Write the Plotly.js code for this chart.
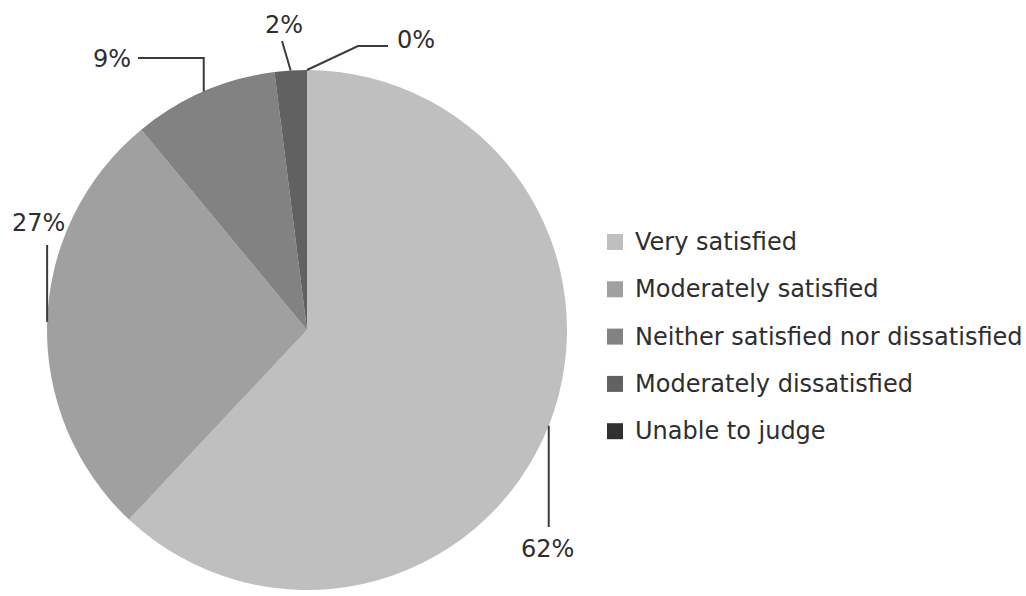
<!DOCTYPE html>
<html>
<head>
<meta charset="utf-8">
<script src="https://cdn.plot.ly/plotly-3.0.1.min.js"></script>
<style>html,body{margin:0;padding:0;background:#fff;}#chart{width:1026px;height:596px;}</style>
</head>
<body>
<div id="chart"></div>
<script>
// ---- data ----
const categories = ["Very satisfied", "Moderately satisfied", "Neither satisfied nor dissatisfied", "Moderately dissatisfied", "Unable to judge"];
const values = [62, 27, 9, 2, 0];
const percentLabels = ["62%", "27%", "9%", "2%", "0%"];
const colors = ["#bfbfbf", "#a0a0a0", "#828282", "#616161", "#303030"];

// ---- layout constants (pixels) ----
const W = 1026, H = 596;
const pieCx = 307, pieCy = 330, pieR = 260;
const fontFam = "DejaVu Sans, Liberation Sans, Arial, sans-serif";
const textColor = "#2e2e2e";
const lineColor = "#3c3c3c";
// label placement: label centre and leader-line style
const labelPlace = [
  {x: 547, y: 549, kind: "vertUp",  gap: 22},
  {x: 38,  y: 223, kind: "vertDown", gap: 22},
  {x: 112, y: 59,  kind: "elbowLeft", endX: 138},
  {x: 284, y: 25,  kind: "direct", endY: 41},
  {x: 416, y: 40,  kind: "elbowRight", elbowX: 358, endX: 388, lineY: 46}
];
const legendX = 607, legendY0 = 242, legendStep = 47.3, legendBox = 16, legendTextX = 633;

const px = x => x / W;
const py = y => 1 - y / H;

const total = values.reduce((a, b) => a + b, 0);
const shapes = [];
const annotations = [];

// leader lines anchored at slice mid-angle on pie edge
let cum = 0;
values.forEach((v, i) => {
  const mid = (cum + v / 2) / total * 2 * Math.PI; // clockwise from 12 o'clock
  cum += v;
  const ax = pieCx + pieR * Math.sin(mid);
  const ay = pieCy - pieR * Math.cos(mid);
  const L = labelPlace[i];
  let pts;
  if (L.kind === "vertUp") pts = [[ax, ay], [ax, L.y - L.gap]];
  else if (L.kind === "vertDown") pts = [[ax + 0, ay], [ax, L.y + L.gap]];
  else if (L.kind === "elbowLeft") pts = [[ax, ay], [ax, L.y - 1], [L.endX, L.y - 1]];
  else if (L.kind === "direct") pts = [[ax, ay], [L.x - 2, L.endY]];
  else pts = [[ax, ay], [L.elbowX, L.lineY], [L.endX, L.lineY]];
  const path = pts.map((p, k) => (k ? "L" : "M") + px(p[0]) + "," + py(p[1])).join(" ");
  shapes.push({type: "path", xref: "paper", yref: "paper", path: path,
    line: {color: lineColor, width: 2}});
  annotations.push({xref: "paper", yref: "paper", x: px(L.x), y: py(L.y),
    xanchor: "center", yanchor: "middle", showarrow: false, text: percentLabels[i],
    font: {family: fontFam, size: 24, color: textColor}});
});

// legend
categories.forEach((c, i) => {
  const cy = legendY0 + i * legendStep;
  shapes.push({type: "rect", xref: "paper", yref: "paper",
    x0: px(legendX), x1: px(legendX + legendBox), y0: py(cy - legendBox / 2), y1: py(cy + legendBox / 2),
    fillcolor: colors[i], line: {width: 0}});
  annotations.push({xref: "paper", yref: "paper", x: px(legendTextX), y: py(cy),
    xanchor: "left", yanchor: "middle", showarrow: false, text: c,
    font: {family: fontFam, size: 24, color: textColor}});
});

const trace = {
  type: "pie",
  labels: categories,
  values: values,
  sort: false,
  direction: "clockwise",
  rotation: 0,
  textinfo: "none",
  hoverinfo: "label+percent",
  marker: {colors: colors, line: {width: 0}},
  showlegend: false,
  domain: {x: [px(pieCx - pieR), px(pieCx + pieR)], y: [py(pieCy + pieR), py(pieCy - pieR)]}
};

const layout = {
  width: W, height: H,
  margin: {l: 0, r: 0, t: 0, b: 0},
  paper_bgcolor: "#ffffff",
  showlegend: false,
  shapes: shapes,
  annotations: annotations,
  font: {family: fontFam}
};

Plotly.newPlot("chart", [trace], layout, {staticPlot: true});
</script>
</body>
</html>
